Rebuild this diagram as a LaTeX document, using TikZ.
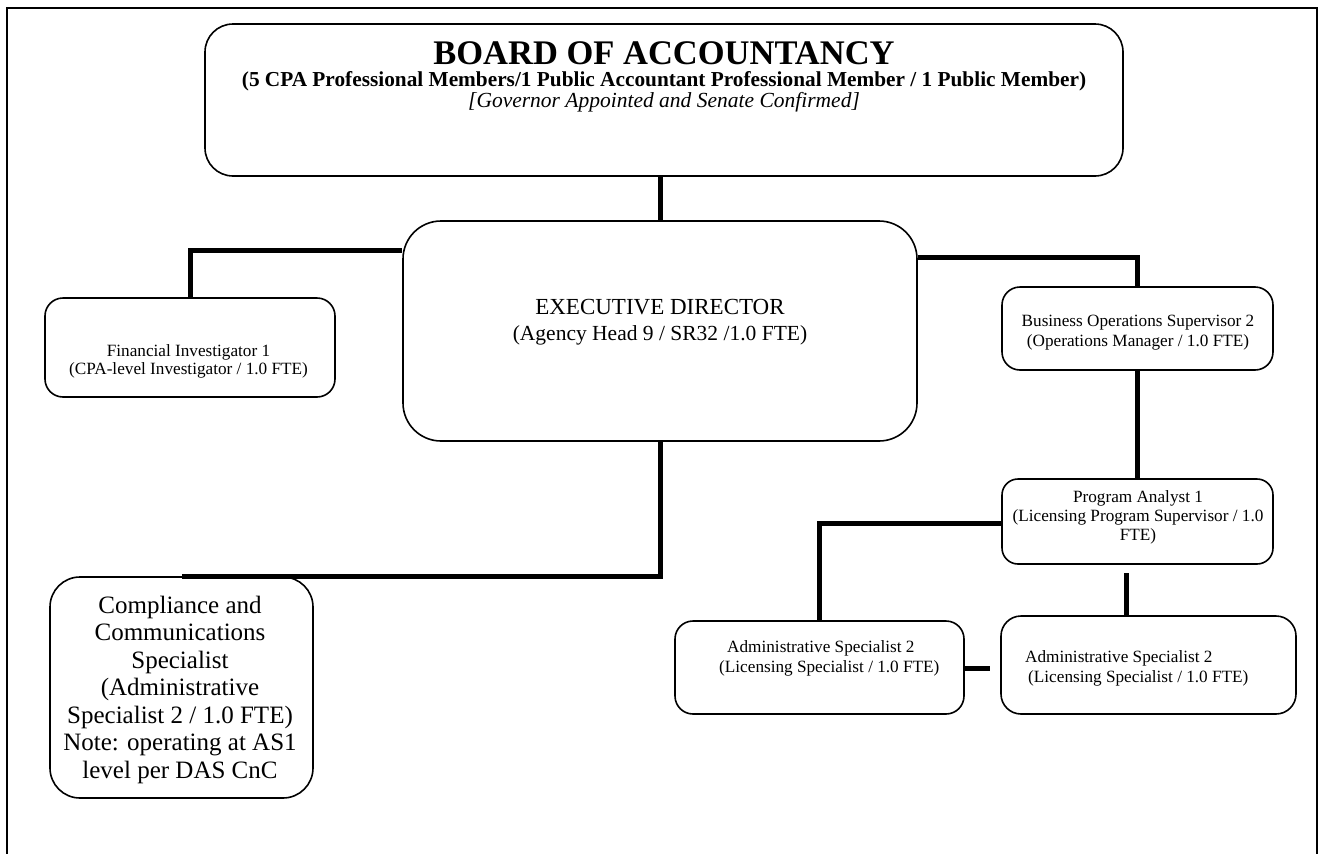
\documentclass[tikz,border=0pt]{standalone}
\usepackage{fontspec}
\setmainfont{Liberation Serif}
\begin{document}
\begin{tikzpicture}[x=1pt,y=-1pt,
  box/.style={draw, line width=1.6pt, rounded corners=#1, inner sep=0pt, anchor=center},
  box/.default=18pt,
  conn/.style={line width=5pt},
  frame/.style={draw, line width=1.6pt},
  tl/.style={inner sep=0pt, anchor=base, font=\fontsize{17.2}{19}\selectfont},
  tlw/.style={inner sep=0pt, anchor=base west, font=\fontsize{17.2}{19}\selectfont},
  tcc/.style={inner sep=0pt, anchor=base, font=\fontsize{25}{27}\selectfont},
]
\useasboundingbox (0,0) rectangle (1320,854);
\clip (0,0) rectangle (1320,854);
\draw[frame] (7,8) rectangle (1317,900);

% boxes
\node[box=28pt, minimum width=918pt, minimum height=152pt] (board) at (664,100) {};
\node[box=38pt, minimum width=514pt, minimum height=220pt] (ed) at (660,331) {};
\node[box=18pt, minimum width=290pt, minimum height=99pt] (fi) at (190,347.5) {};
\node[box=18pt, minimum width=271pt, minimum height=83pt] (bos) at (1137.5,328.5) {};
\node[box=16pt, minimum width=271pt, minimum height=85pt] (pa) at (1137.5,521.5) {};
\node[box=18pt, minimum width=289pt, minimum height=93pt] (as2a) at (819.5,667.5) {};
\node[box=20pt, minimum width=295pt, minimum height=98pt] (as2b) at (1148.5,665) {};
\node[box=30pt, minimum width=263pt, minimum height=221pt] (cc) at (181.5,687.5) {};

% connectors
\coordinate (j1) at (190,250);
\coordinate (j2) at (1137.5,257);
\coordinate (j3) at (821,523);
\coordinate (j4) at (1126,573);
\coordinate (j5) at (990,668);
\draw[conn] (ed.north |- board.south) -- (ed.north);
\draw[conn] (ed.west |- j1) -| (fi.north);
\draw[conn] (ed.east |- j2) -| (bos.north);
\draw[conn] (bos.south) -- (pa.north);
\draw[conn] (pa.west |- j3) -| (as2a.north);
\draw[conn] (j4) -- (j4 |- as2b.north);
\draw[conn] (as2a.east |- j5) -- (j5);
\draw[conn] (ed.south) |- (cc.north);

% board text
\node[inner sep=0pt, anchor=base, font=\bfseries\fontsize{34.5}{36}\selectfont] (bt1) at (664,64) {BOARD OF ACCOUNTANCY};
\node[inner sep=0pt, anchor=base, font=\bfseries\fontsize{21.3}{23}\selectfont] (bt2) at (664,86) {(5 CPA Professional Members/1 Public Accountant Professional Member / 1 Public Member)};
\node[inner sep=0pt, anchor=base, font=\itshape\fontsize{21.5}{23}\selectfont] (bt3) at (664,107) {[Governor Appointed and Senate Confirmed]};

% executive director
\node[inner sep=0pt, anchor=base, font=\fontsize{23}{25}\selectfont] (et1) at (660,314) {EXECUTIVE DIRECTOR};
\node[inner sep=0pt, anchor=base, font=\fontsize{21.5}{25}\selectfont] (et2) at (660,340) {(Agency Head 9 / SR32 /1.0 FTE)};

% financial investigator
\node[tl] (ft1) at (188.5,356) {Financial Investigator 1};
\node[tl] (ft2) at (188.5,374) {(CPA-level Investigator / 1.0 FTE)};

% business operations supervisor
\node[tl] (bst1) at (1138,326) {Business Operations Supervisor 2};
\node[tl] (bst2) at (1138,346) {(Operations Manager / 1.0 FTE)};

% program analyst
\node[tl] (pt1) at (1138,502) {Program Analyst 1};
\node[tl] (pt2) at (1138,521) {(Licensing Program Supervisor / 1.0};
\node[tl] (pt3) at (1138,540) {FTE)};

% administrative specialists
\node[tlw] (at1) at (727,652) {Administrative Specialist 2};
\node[tlw] (at2) at (719,672) {(Licensing Specialist / 1.0 FTE)};
\node[tlw] (bt4) at (1025,662) {Administrative Specialist 2};
\node[tlw] (bt5) at (1028,682) {(Licensing Specialist / 1.0 FTE)};

% compliance
\node[tcc] (c1) at (180,613) {Compliance and};
\node[tcc] (c2) at (180,640.5) {Communications};
\node[tcc] (c3) at (180,668) {Specialist};
\node[tcc] (c4) at (180,695.5) {(Administrative};
\node[tcc] (c5) at (180,723) {Specialist 2 / 1.0 FTE)};
\node[tcc] (c6) at (180,750.5) {Note: operating at AS1};
\node[tcc] (c7) at (180,778) {level per DAS CnC};
\end{tikzpicture}
\end{document}
